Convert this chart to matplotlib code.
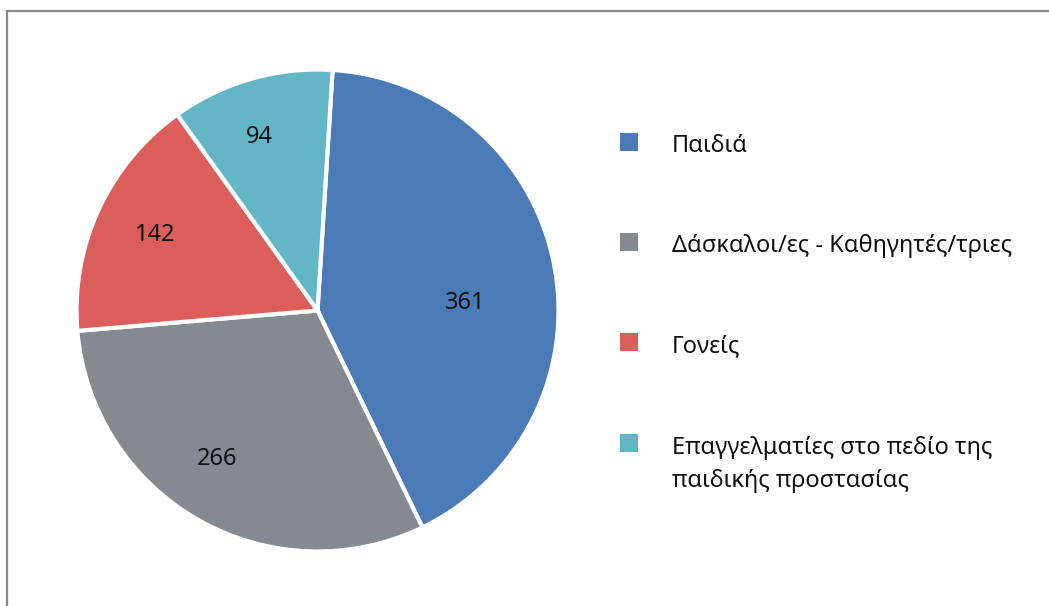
import numpy as np
import matplotlib
matplotlib.use("Agg")
import matplotlib.pyplot as plt
from matplotlib.patches import Rectangle

# ============================
# Data
# ============================
labels = [
    "Παιδιά",
    "Δάσκαλοι/ες - Καθηγητές/τριες",
    "Γονείς",
    "Επαγγελματίες στο πεδίο της\nπαιδικής προστασίας",
]
values = [361, 266, 142, 94]
colors = ["#4a7bb7", "#848a8f", "#db5e5b", "#62b6c6"]

plt.rcParams["font.family"] = ["Noto Sans", "DejaVu Sans"]

W, H = 1049, 606
fig = plt.figure(figsize=(W / 100, H / 100), dpi=100)

# frame around the figure (only left/top visible in reference)
fig.patches.append(Rectangle((7 / W, -0.1), 1.2, (H - 11) / H + 0.1,
                             transform=fig.transFigure, fill=False,
                             edgecolor="#888888", linewidth=1.6))

# ============================
# Pie
# ============================
cx, cy, r = 317.5, 310.5, 241
ax = fig.add_axes([(cx - r) / W, (H - cy - r) / H, 2 * r / W, 2 * r / H])

wedges, texts, autotexts = ax.pie(
    values, colors=colors, startangle=86.4, counterclock=False,
    autopct=lambda p: f"{p * sum(values) / 100:.0f}",
    pctdistance=0.75,
    wedgeprops=dict(edgecolor="white", linewidth=3),
    textprops=dict(fontsize=17, color="#111111"),
)
# label placement (radius, angle) as in the reference
label_pos = [(0.614, 4.1), (0.734, -124.6), (0.749, 154.2), (0.771, 108.3)]
for t, (rr, ang) in zip(autotexts, label_pos):
    a = np.deg2rad(ang)
    t.set_position((rr * np.cos(a), rr * np.sin(a)))
    t.set_va("center_baseline")
ax.set_xlim(-1, 1)
ax.set_ylim(-1, 1)

# ============================
# Legend
# ============================
first_baselines = [152, 252, 352, 453]
line_gap = 34
for lab, col, yb in zip(labels, colors, first_baselines):
    fig.patches.append(Rectangle((620 / W, (H - yb + 1) / H), 18 / W, 18 / H,
                                 transform=fig.transFigure,
                                 facecolor=col, edgecolor="none"))
    # baseline anchor is the last line for multi-line text
    y_last = yb + line_gap * lab.count("\n")
    fig.text(672 / W, (H - y_last) / H, lab, fontsize=17, color="#111111",
             va="baseline", ha="left", linespacing=1.5)

fig.savefig("out.png", dpi=100)
